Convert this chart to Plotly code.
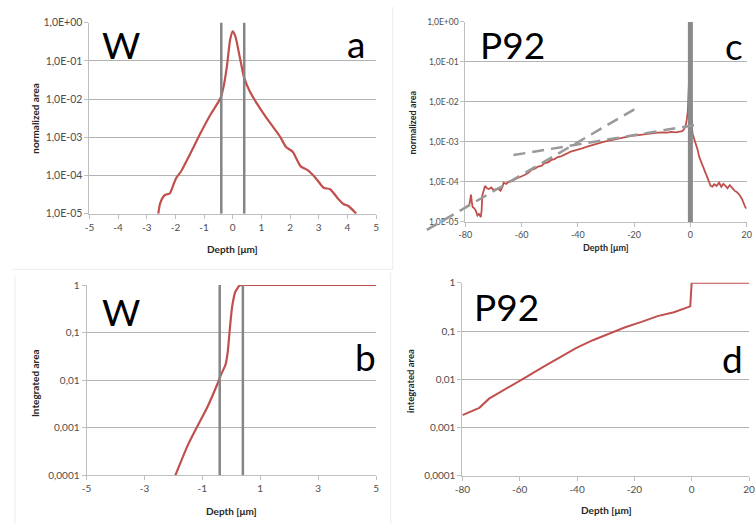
import plotly.graph_objects as go

# ---------------- data ----------------
# Panel a: W, normalized area vs depth
w_depth = [-2.6, -2.54, -2.45, -2.37, -2.2, -2.05, -1.97, -1.8, -1.51, -1.11, -0.77, -0.43,
           -0.31, -0.2, -0.09, 0.0, 0.09, 0.26, 0.39, 0.6, 0.94, 1.29, 1.63, 1.86, 2.09,
           2.37, 2.6, 2.89, 3.17, 3.4, 3.69, 3.86, 4.03, 4.2, 4.31]
w_norm = [1.0e-5, 1.8e-5, 2.6e-5, 3.1e-5, 3.4e-5, 6.3e-5, 8.7e-5, 1.3e-4, 3.4e-4, 1.35e-3,
          4.0e-3, 1.05e-2, 2.3e-2, 7.6e-2, 0.36, 0.59, 0.44, 0.11, 3.8e-2, 1.55e-2, 5.9e-3,
          2.45e-3, 1.1e-3, 5.6e-4, 4.2e-4, 1.74e-4, 1.4e-4, 8.7e-5, 4.8e-5, 4.4e-5, 2.4e-5,
          1.8e-5, 1.6e-5, 1.23e-5, 1.0e-5]

# Panel b: W, integrated area
w_int_depth = [-2.05, -1.93, -1.5, -1.16, -0.82, -0.48, -0.35, -0.2, -0.12, -0.05, 0.03,
               0.14, 0.29, 0.42, 5.0]
w_int = [6.5e-5, 1.0e-4, 4.3e-4, 1.1e-3, 2.75e-3, 8.3e-3, 1.32e-2, 2.1e-2, 4.0e-2, 0.12,
         0.35, 0.72, 0.98, 1.0, 1.0]

# W interface markers (depth, µm)
w_marks = [-0.4, 0.4]

# Panel c: P92, normalized area
p92_depth = [-80, -79.3, -78.6, -78.2, -78.0, -77.7, -77.4, -76.8, -76.3, -75.7, -75.2, -74.5,
             -74.2, -74.0, -73.5, -73.0, -72.3, -71.6, -70.8, -70.0, -69.3, -68.4, -67.5,
             -66.8, -66.4, -65.5, -64.5, -63.5, -62.5, -61.1, -60.0, -58.8, -57.6, -56.5,
             -55.3, -54.2, -53.0, -51.8, -50.6, -49.4, -48.3, -47.2, -46.0, -44.8, -43.6,
             -42.5, -41.2, -40.0, -38.5, -36.7, -35.0, -33.2, -31.5, -29.8, -28.0, -26.2,
             -24.5, -22.8, -21.0, -19.2, -17.5, -16.0, -14.6, -13.0, -11.5, -9.9, -8.3, -6.8,
             -5.2, -4.0, -2.9, -2.2, -1.7, -1.3, -0.9, -0.55, -0.3, -0.1, 0.0, 0.2, 0.5, 0.8,
             1.4, 2.0, 2.6, 3.1, 4.0, 4.9, 5.8, 6.6, 7.2, 7.8, 8.5, 9.3, 10.2, 11.0, 11.7,
             12.5, 13.2, 14.0, 14.8, 15.7, 16.6, 17.4, 18.3, 19.0, 19.5, 20.0]
p92_norm = [2.24e-5, 2.51e-5, 2.57e-5, 3.55e-5, 4.79e-5, 3.16e-5, 2.34e-5, 2.19e-5, 1.91e-5,
            1.45e-5, 1.58e-5, 1.32e-5, 2.0e-5, 4.57e-5, 6.61e-5, 7.94e-5, 6.92e-5, 6.61e-5,
            7.24e-5, 6.31e-5, 6.46e-5, 6.92e-5, 6.03e-5, 7.59e-5, 9.55e-5, 8.91e-5, 1.02e-4,
            1.05e-4, 1.15e-4, 1.26e-4, 1.38e-4, 1.51e-4, 1.70e-4, 2.0e-4, 2.14e-4, 2.40e-4,
            2.51e-4, 2.95e-4, 3.09e-4, 3.55e-4, 3.72e-4, 4.17e-4, 4.37e-4, 4.90e-4, 5.25e-4,
            5.75e-4, 6.03e-4, 6.46e-4, 6.92e-4, 7.59e-4, 8.32e-4, 9.12e-4, 9.77e-4, 1.05e-3,
            1.12e-3, 1.20e-3, 1.29e-3, 1.35e-3, 1.41e-3, 1.45e-3, 1.51e-3, 1.58e-3, 1.66e-3,
            1.66e-3, 1.70e-3, 1.74e-3, 1.70e-3, 1.78e-3, 1.74e-3, 1.78e-3, 1.86e-3, 2.09e-3,
            2.51e-3, 3.55e-3, 5.89e-3, 2.63e-2, 0.117, 0.141, 0.126, 6.31e-3, 2.51e-3,
            1.58e-3, 1.20e-3, 9.12e-4, 6.31e-4, 4.27e-4, 2.95e-4, 2.04e-4, 1.41e-4, 9.55e-5,
            7.94e-5, 7.59e-5, 8.71e-5, 7.94e-5, 9.55e-5, 7.59e-5, 8.91e-5, 7.94e-5, 6.92e-5,
            8.32e-5, 7.24e-5, 6.03e-5, 5.50e-5, 4.79e-5, 3.80e-5, 2.82e-5, 2.34e-5, 2.14e-5]

# Panel c: dashed guide lines (two straight fits)
fit1_depth = [-93.7, -18.06]
fit1_val = [6.3e-6, 7.76e-3]
fit2_depth = [-62.9, 2.34]
fit2_val = [4.68e-4, 2.69e-3]
p92_mark = [0.0]

# Panel d: P92, integrated area
p92_int_depth = [-80, -75.9, -74.1, -70.7, -67.4, -62.9, -57.2, -51.5, -45.9, -40.2, -34.5,
                 -28.9, -23.2, -17.5, -11.9, -6.2, -1.1, -0.5, 0.0, 20.0]
p92_int = [1.82e-3, 2.34e-3, 2.57e-3, 3.98e-3, 5.13e-3, 7.41e-3, 1.17e-2, 1.86e-2, 2.82e-2,
           4.47e-2, 6.46e-2, 8.71e-2, 0.120, 0.155, 0.204, 0.245, 0.316, 0.324, 1.0, 1.0]

# tick labels
norm_tickvals = [1, 1e-1, 1e-2, 1e-3, 1e-4, 1e-5]
norm_ticktext = ["1,0E+00", "1,0E-01", "1,0E-02", "1,0E-03", "1,0E-04", "1,0E-05"]
int_tickvals = [1, 0.1, 0.01, 0.001, 0.0001]
int_ticktext = ["1", "0,1", "0,01", "0,001", "0,0001"]
xa_ticks = [-5, -4, -3, -2, -1, 0, 1, 2, 3, 4, 5]
xb_ticks = [-5, -3, -1, 1, 3, 5]
xp_ticks = [-80, -60, -40, -20, 0, 20]

# ---------------- styling ----------------
W, H = 755, 530
RED = "#c0504d"
GRID = "#b3b3b3"
AXIS = "#bfbfbf"
MARK = "#858585"
TICKC = "#4d4d4d"
FONT = "Lato, 'Open Sans', sans-serif"


def px(x):
    return x / W


def py(y):
    return 1 - y / H


# panel c geometry (pixels) and an invisible, wider companion axis with the same scale,
# so the steep dashed guide can run past the axes as in the original
C_L, C_R, C_T, C_B = 466, 752.6, 15.3, 220.3
C_XR = [-80, 20]
C_YR = [-5, 0]
EXT_L, EXT_B = 420, 234
ext_x0 = C_XR[0] - (C_L - EXT_L) * (C_XR[1] - C_XR[0]) / (C_R - C_L)
ext_y0 = C_YR[0] - (EXT_B - C_B) * (C_YR[1] - C_YR[0]) / (C_B - C_T)

fig = go.Figure()

# panel a
fig.add_trace(go.Scatter(x=w_depth, y=w_norm, mode="lines", line=dict(color=RED, width=2.2, shape="spline", smoothing=0.6),
                         xaxis="x", yaxis="y", showlegend=False))
for m in w_marks:
    fig.add_trace(go.Scatter(x=[m, m], y=[1e-5, 1], mode="lines", line=dict(color=MARK, width=2.5),
                             xaxis="x", yaxis="y", showlegend=False))
# panel b
fig.add_trace(go.Scatter(x=w_int_depth, y=w_int, mode="lines", line=dict(color=RED, width=2.2, shape="spline", smoothing=0.5),
                         xaxis="x3", yaxis="y3", showlegend=False))
for m in w_marks:
    fig.add_trace(go.Scatter(x=[m, m], y=[1e-4, 1], mode="lines", line=dict(color=MARK, width=2.5),
                             xaxis="x3", yaxis="y3", showlegend=False))
# panel c
fig.add_trace(go.Scatter(x=p92_depth, y=p92_norm, mode="lines", line=dict(color=RED, width=1.8),
                         xaxis="x2", yaxis="y2", showlegend=False))
for m in p92_mark:
    fig.add_trace(go.Scatter(x=[m, m], y=[1e-5, 1], mode="lines", line=dict(color="#8a8a8a", width=5),
                             xaxis="x2", yaxis="y2", showlegend=False))
fig.add_trace(go.Scatter(x=fit1_depth, y=fit1_val, mode="lines", line=dict(color="#999999", width=2.5, dash="12px,7px"),
                         xaxis="x5", yaxis="y5", showlegend=False))
fig.add_trace(go.Scatter(x=fit2_depth, y=fit2_val, mode="lines", line=dict(color="#999999", width=2.5, dash="12px,7px"),
                         xaxis="x2", yaxis="y2", showlegend=False))
# panel d
fig.add_trace(go.Scatter(x=p92_int_depth, y=p92_int, mode="lines", line=dict(color=RED, width=2),
                         xaxis="x4", yaxis="y4", showlegend=False))


def xaxis(domain, rng, ticks, size):
    return dict(domain=domain, range=rng, tickvals=ticks, ticktext=[str(t) for t in ticks],
                showline=True, linecolor=AXIS, linewidth=1, ticks="outside", ticklen=4,
                tickcolor=AXIS, showgrid=False, zeroline=False, ticklabeloverflow="allow",
                tickfont=dict(family=FONT, size=size, color=TICKC), fixedrange=True)


def yaxis(domain, rng, tv, tt, size, anchor):
    return dict(domain=domain, type="log", range=rng, tickvals=tv, ticktext=tt,
                showline=True, linecolor=AXIS, linewidth=1, ticks="outside", ticklen=4,
                tickcolor=AXIS, showgrid=True, gridcolor=GRID, gridwidth=1, zeroline=False,
                tickfont=dict(family=FONT, size=size, color=TICKC), anchor=anchor, fixedrange=True)


layout = dict(
    width=W, height=H, margin=dict(l=0, r=0, t=0, b=0),
    paper_bgcolor="white", plot_bgcolor="rgba(0,0,0,0)",
    xaxis=xaxis([px(83), px(375)], [-5, 5], xa_ticks, 10),
    yaxis=yaxis([py(212), py(16)], [-5, 0], norm_tickvals, norm_ticktext, 10.5, "x"),
    xaxis2=xaxis([px(C_L), px(C_R)], C_XR, xp_ticks, 9),
    yaxis2=yaxis([py(C_B), py(C_T)], C_YR, norm_tickvals, norm_ticktext, 8.5, "x2"),
    xaxis3=xaxis([px(80), px(375)], [-5, 5], xb_ticks, 10),
    yaxis3=yaxis([py(480), py(285)], [-4, 0], int_tickvals, int_ticktext, 10, "x3"),
    xaxis4=xaxis([px(463), 1.0], [-80, 20], xp_ticks, 10),
    yaxis4=yaxis([py(480.7), py(282.7)], [-4, 0], int_tickvals, int_ticktext, 10, "x4"),
    xaxis5=dict(domain=[px(EXT_L), px(C_R)], range=[ext_x0, C_XR[1]], visible=False, fixedrange=True, anchor="y5"),
    yaxis5=dict(domain=[py(EXT_B), py(C_T)], range=[ext_y0, C_YR[1]], type="log", visible=False,
                fixedrange=True, anchor="x5"),
)
layout["xaxis"]["anchor"] = "y"
layout["xaxis2"]["anchor"] = "y2"
layout["xaxis3"]["anchor"] = "y3"
layout["xaxis4"]["anchor"] = "y4"

ann = []


def text(x, y, s, size, bold=False, angle=0, color="#262626"):
    ann.append(dict(x=px(x), y=py(y), xref="paper", yref="paper", text=("<b>%s</b>" % s) if bold else s,
                    showarrow=False, textangle=angle, xanchor="center", yanchor="middle",
                    font=dict(family=FONT, size=size, color=color)))


# axis titles
text(229, 248, "Depth [μm]", 10, bold=True)
text(609, 247, "Depth [μm]", 9, bold=True)
text(228, 517, "Depth [μm]", 10, bold=True)
text(610, 516, "Depth [μm]", 10, bold=True)
text(28, 114, "normalized area", 10, bold=True, angle=-90)
text(412, 118, "normalized area", 9, bold=True, angle=-90)
text(27, 385, "Integrated area", 10, bold=True, angle=-90)
text(410, 383, "integrated area", 9.5, bold=True, angle=-90)
# panel labels
LBL = 37
text(115, 38, "W", LBL, color="black")
text(355, 37, "a", LBL, color="black")
text(514, 38, "P92", LBL, color="black")
text(740, 39, "c", LBL, color="black")
text(115, 312, "W", LBL, color="black")
text(364, 358, "b", LBL, color="black")
text(508, 307, "P92", LBL, color="black")
text(738, 360, "d", LBL, color="black")
layout["annotations"] = ann

# faint chart-area frames
frame = dict(type="line", xref="paper", yref="paper", line=dict(color="#ececec", width=1), layer="below")
layout["shapes"] = [
    dict(frame, x0=px(392), x1=px(392), y0=py(0), y1=py(269)),
    dict(frame, x0=px(5), x1=px(392), y0=py(269), y1=py(269)),
    dict(frame, x0=px(7), x1=px(7), y0=py(275), y1=py(530)),
    dict(frame, x0=px(390), x1=px(390), y0=py(272), y1=py(530)),
]

fig.update_layout(**layout)
fig.write_html("out.html", config={"displayModeBar": False, "staticPlot": True},
               post_script="document.body.style.margin='0';document.body.style.padding='0';document.body.style.overflow='hidden';")
